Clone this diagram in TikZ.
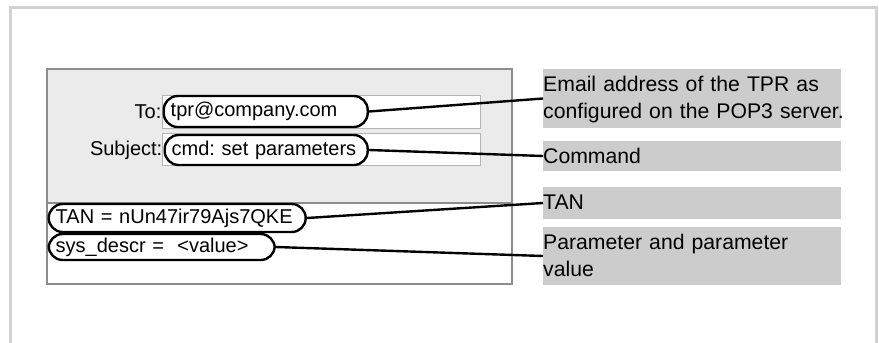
\documentclass[tikz,border=0pt]{standalone}
\usepackage{fontspec}
\setmainfont{Liberation Sans}
\usetikzlibrary{positioning}
\definecolor{framegray}{HTML}{D2D2D2}
\definecolor{wingray}{HTML}{8C8C8C}
\definecolor{headgray}{HTML}{EBEBEB}
\definecolor{fieldgray}{HTML}{B4B4B4}
\definecolor{notegray}{HTML}{CCCCCC}
\frenchspacing
\begin{document}
\begin{tikzpicture}[x=1pt,y=-1pt,
  oval/.style={draw=black,line width=2.4pt,fill=white,rounded corners=14pt,
    anchor=west,inner xsep=7pt,inner ysep=0pt,align=left,
    font=\fontsize{20}{24}\selectfont,text height=14.5pt,text depth=4pt},
  note/.style={fill=notegray,anchor=base west,inner sep=0pt,text width=298pt,
    align=left,text height=22pt,font=\fontsize{21.2}{27.5}\selectfont},
  link/.style={draw=black,line width=2.4pt}]
\useasboundingbox (0,0) rectangle (879,343);

\draw[framegray,line width=3pt] (10.5,343) -- (10.5,7.5) -- (876,7.5) -- (876,343);

\fill[headgray] (47,69) rectangle (512,203);
\fill[white] (47,203) rectangle (512,284);
\draw[wingray,line width=1.6pt] (47,69) rectangle (512,284);
\draw[wingray,line width=1.6pt] (47,203) -- (512,203);

\draw[fieldgray,line width=1pt,fill=white] (162,95) rectangle (480,128);
\draw[fieldgray,line width=1pt,fill=white] (162,133) rectangle (480,165);

\node[oval,text width=190pt,minimum height=31pt] (to) at (162.5,111.5) {tpr@company.com};
\node[oval,text width=189pt,minimum height=30pt] (subj) at (163.5,150) {cmd: set parameters};
\node[oval,text width=243pt,minimum height=28pt] (tan) at (47.5,218) {TAN = nUn47ir79Ajs7QKE};
\node[oval,text width=212pt,minimum height=26pt] (sys) at (47.5,247) {sys\_descr = \ {<}value{>}};

\node[left=1pt of to,inner sep=0pt,font=\fontsize{20}{24}\selectfont] (tolbl) {To:};
\node[left=1pt of subj,inner sep=0pt,font=\fontsize{20}{24}\selectfont] (subjlbl) {Subject:};

\node[note,text depth=37pt] (email) at (543,91) {Email address of the TPR as\\\mbox{configured on the POP3 server.}};
\node[note,text depth=8pt] (cmd) at (543,163) {Command};
\node[note,text depth=10pt] (tanlbl) at (543,209) {TAN};
\node[note,text depth=36pt] (param) at (543,249) {Parameter and parameter\\value};

\draw[link] (to.east) -- (email.west);
\draw[link] (subj.east) -- (cmd.west);
\draw[link] (tan.east) -- (tanlbl.west);
\draw[link] (sys.east) -- (param.west);
\end{tikzpicture}
\end{document}
